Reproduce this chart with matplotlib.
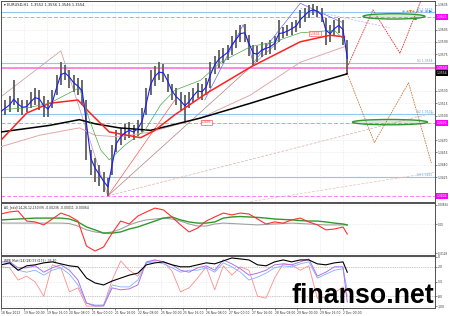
import numpy as np
import matplotlib
matplotlib.use("Agg")
import matplotlib.pyplot as plt
from matplotlib.patches import Ellipse
import matplotlib.transforms as mtransforms

# ---------------- data ----------------
date_labels = ["18 Nov 2013", "19 Nov 00:00", "19 Nov 16:00", "20 Nov 08:00", "21 Nov 00:00",
               "21 Nov 16:00", "22 Nov 08:00", "25 Nov 00:00", "25 Nov 16:00", "26 Nov 08:00",
               "27 Nov 00:00", "27 Nov 16:00", "28 Nov 08:00", "29 Nov 00:00", "29 Nov 16:00",
               "2 Dec 00:00"]
date_ticks = list(range(0, 241, 16))

price_bar = list(range(0, 244, 3))
highs = [1.3513,1.3519,1.3524,1.3543,1.3521,1.3519,1.3519,1.3529,1.3534,1.3531,
         1.3524,1.3519,1.3531,1.3550,1.3565,1.3562,1.3556,1.3550,1.3546,1.3543,
         1.3519,1.3458,1.3448,1.3440,1.3431,1.3424,1.3464,1.3482,1.3485,1.3490,
         1.3492,1.3488,1.3495,1.3509,1.3534,1.3556,1.3560,1.3565,1.3563,1.3551,
         1.3539,1.3534,1.3529,1.3525,1.3529,1.3534,1.3540,1.3539,1.3546,1.3565,
         1.3573,1.3580,1.3582,1.3586,1.3597,1.3604,1.3610,1.3612,1.3598,1.3586,
         1.3585,1.3590,1.3589,1.3592,1.3597,1.3617,1.3608,1.3610,1.3614,1.3617,
         1.3629,1.3631,1.3635,1.3636,1.3634,1.3631,1.3619,1.3610,1.3617,1.3619,
         1.3617,1.3592]
lows = [1.3497,1.3501,1.3504,1.3513,1.3504,1.3501,1.3504,1.3509,1.3513,1.3507,
        1.3498,1.3498,1.3509,1.3525,1.3537,1.3543,1.3534,1.3529,1.3525,1.3513,
        1.3446,1.3427,1.3419,1.3414,1.3407,1.3402,1.3427,1.3456,1.3464,1.3470,
        1.3473,1.3470,1.3475,1.3480,1.3501,1.3525,1.3536,1.3543,1.3541,1.3529,
        1.3519,1.3513,1.3507,1.3492,1.3509,1.3517,1.3521,1.3519,1.3525,1.3534,
        1.3551,1.3558,1.3564,1.3568,1.3574,1.3582,1.3590,1.3590,1.3573,1.3562,
        1.3565,1.3571,1.3574,1.3575,1.3580,1.3590,1.3595,1.3597,1.3598,1.3602,
        1.3607,1.3614,1.3619,1.3623,1.3620,1.3614,1.3586,1.3590,1.3597,1.3601,
        1.3586,1.3550]
blue_ma = [1.3505,1.3509,1.3513,1.3520,1.3514,1.3510,1.3511,1.3517,1.3522,1.3520,
           1.3512,1.3508,1.3516,1.3534,1.3550,1.3552,1.3547,1.3540,1.3536,1.3530,
           1.3490,1.3448,1.3436,1.3428,1.3420,1.3413,1.3440,1.3466,1.3474,1.3479,
           1.3482,1.3480,1.3484,1.3493,1.3515,1.3538,1.3548,1.3553,1.3552,1.3542,
           1.3530,1.3523,1.3518,1.3512,1.3517,1.3524,1.3530,1.3529,1.3535,1.3550,
           1.3562,1.3569,1.3573,1.3577,1.3586,1.3593,1.3600,1.3601,1.3588,1.3576,
           1.3575,1.3580,1.3582,1.3584,1.3588,1.3600,1.3601,1.3603,1.3606,1.3609,
           1.3617,1.3622,1.3627,1.3629,1.3627,1.3623,1.3604,1.3600,1.3606,1.3610,
           1.3605,1.3570]

green_bar = [0,20,34,45,55,62,70,76,87,101,112,122,140,154,175,192,210,234,241]
green_ma = [1.3507,1.3510,1.3515,1.3525,1.3534,1.3495,1.3458,1.3446,1.3464,1.3482,
            1.3513,1.3531,1.3543,1.3565,1.3584,1.3590,1.3601,1.3604,1.3592]
red_bar = [0,18,34,54,62,76,98,108,122,145,175,210,231,241]
red_ma = [1.3470,1.3503,1.3515,1.3519,1.3504,1.3480,1.3473,1.3482,1.3501,1.3528,
          1.3559,1.3590,1.3598,1.3596]
pink_bar = [0,27,55,66,83,105,140,175,210,241]
pink_ma = [1.3462,1.3476,1.3485,1.3476,1.3474,1.3480,1.3497,1.3525,1.3565,1.3584]
black_bar = [0,34,55,66,83,105,140,175,210,243]
black_ma = [1.3480,1.3488,1.3495,1.3490,1.3485,1.3482,1.3497,1.3515,1.3534,1.3551]

blue_levels = [1.3626, 1.3564, 1.3502, 1.3425]
blue_level_text = ["R1 1.3626", "S1 1.3564", "S2 1.3502", "S3 1.3425"]
magenta_levels = [1.3620, 1.3558, 1.3491, 1.3402]
magenta_text = ["1.3621", "1.3558", "1.3491", "1.3402"]
last_price = 1.3554

zig_left_bar = [0, 42, 75]
zig_left_px = [1.3523, 1.3579, 1.3402]
proj_red_bar = [243, 261, 280, 296]
proj_red_px = [1.3559, 1.3629, 1.3576, 1.3646]
proj_brown_bar = [243, 262, 286, 302]
proj_brown_px = [1.3551, 1.3467, 1.3540, 1.3442]
thin_blue_bar = [143, 170, 177, 210, 239]
thin_blue_px = [1.3519, 1.3611, 1.3564, 1.3637, 1.3614]

price_ticks = [1.3635, 1.3605, 1.3590, 1.3575, 1.3530, 1.3515, 1.3500,
               1.3470, 1.3455, 1.3440, 1.3425]

ind_bar = list(range(0, 241, 6)) + [243]
ao_red = [0.0044,0.0053,0.0057,0.0013,0.0009,-0.0004,0.0022,0.0048,0.0035,0.0013,
          -0.0097,-0.0119,-0.0101,-0.0040,0.0013,0.0000,0.0035,0.0053,0.0070,0.0062,
          0.0031,-0.0004,-0.0035,-0.0018,0.0013,0.0031,0.0048,0.0040,0.0048,0.0044,
          0.0022,0.0000,0.0009,0.0004,0.0018,0.0026,0.0009,-0.0004,-0.0026,-0.0022,
          -0.0013,-0.0044]
ao_green = [0.0018,0.0020,0.0022,0.0024,0.0026,0.0026,0.0026,0.0026,0.0022,0.0009,
            -0.0013,-0.0026,-0.0040,-0.0040,-0.0035,-0.0022,-0.0013,0.0000,0.0013,0.0026,
            0.0031,0.0018,0.0009,0.0004,0.0004,0.0009,0.0026,0.0031,0.0033,0.0031,
            0.0029,0.0026,0.0022,0.0020,0.0018,0.0015,0.0013,0.0013,0.0009,0.0004,
            0.0000,-0.0004]
ao_grey = [0.0004,0.0004,0.0004,0.0004,0.0004,0.0004,0.0004,0.0004,0.0002,-0.0009,
           -0.0026,-0.0035,-0.0040,-0.0035,-0.0022,-0.0004,0.0009,0.0018,0.0022,0.0026,
           0.0022,0.0013,0.0000,-0.0009,-0.0009,0.0000,0.0004,0.0002,0.0000,-0.0002,
           -0.0004,-0.0002,0.0000,0.0002,0.0004,0.0002,0.0000,-0.0002,-0.0004,-0.0004,
           -0.0004,-0.0004]

wpr_black = [-16,-12,-27,-18,-16,-12,-10,-14,-18,-20,-43,-53,-57,-49,-43,-37,-33,-16,-12,-10,
             -16,-20,-20,-16,-12,-14,-8,-2,-4,-6,-16,-18,-10,-6,-10,-6,-6,-14,-16,-12,-10,-31]
wpr_purple = [-10,-10,-22,-22,-18,-31,-22,-16,-27,-47,-94,-100,-100,-63,-67,-65,-57,-10,-6,-10,
              -16,-27,-31,-22,-18,-27,-6,-14,-24,-37,-33,-27,-16,-14,-16,-10,-4,-39,-31,-20,-20,-92]
wpr_blue = [-16,-14,-27,-31,-27,-37,-27,-22,-35,-57,-94,-98,-98,-57,-61,-61,-47,-12,-10,-14,
            -22,-31,-27,-27,-22,-31,-12,-20,-31,-47,-41,-33,-22,-18,-20,-14,-10,-43,-35,-27,-24,-67]
wpr_salmon = [-20,-22,-47,-39,-51,-80,-16,-22,-71,-63,-100,-100,-98,-47,-8,-27,-39,-12,-6,-10,
              -29,-71,-63,-43,-20,-67,-18,-37,-20,-27,-80,-84,-43,-14,-16,-27,-18,-84,-82,-73,-61,-78]

# ---------------- figure ----------------
W, H = 450, 316
fig = plt.figure(figsize=(W / 100, H / 100), dpi=100)
fig.patch.set_facecolor("white")

def ax_rect(x0, y0, x1, y1):
    return [x0 / W, 1 - y1 / H, (x1 - x0) / W, (y1 - y0) / H]

ax = fig.add_axes(ax_rect(1, 1, 435, 202))
p1 = fig.add_axes(ax_rect(1, 203, 435, 255), sharex=ax)
p2 = fig.add_axes(ax_rect(1, 256, 435, 308), sharex=ax)

XMAX = 434 / 1.425
FS = 2.2
for a in (ax, p1, p2):
    a.set_xlim(0, XMAX)
    for s in a.spines.values():
        s.set_color("#505050")
        s.set_linewidth(0.7)
    a.yaxis.tick_right()
    a.tick_params(axis="y", labelsize=FS, length=1.2, width=0.4, pad=0.8, colors="#333333")
    a.tick_params(axis="x", length=1.5, width=0.4)
    a.set_xticks(date_ticks)
    a.grid(True, color="#d8d8d8", linestyle=":", linewidth=0.4)
    a.set_axisbelow(True)
for a in (ax, p1):
    a.tick_params(axis="x", labelbottom=False, length=0)

# ---- main panel ----
ax.set_ylim(1.3641 - 0.000122 * 202, 1.3641 - 0.000122 * 1)
ax.set_yticks(price_ticks)
ax.set_yticklabels([f"{v:.4f}" for v in price_ticks])

# horizontal levels
for lv in blue_levels:
    ax.axhline(lv, color="#8ec8f2", lw=0.8, zorder=1)
ax.axhline(magenta_levels[1], color="#ff9a9a", lw=1.4, zorder=1)
for lv in magenta_levels:
    ax.axhline(lv, color="#ff7cff", lw=0.7, dashes=(4, 2), zorder=1.2)

# fan / zigzag lines
ax.plot(zig_left_bar, zig_left_px, color="#c8a0a0", lw=0.55, zorder=1.5)
ax.plot([75, 122], [1.3402, 1.3519], color="#ff5a4a", lw=0.5, zorder=1.5)
ax.plot([75, 196], [1.3402, 1.3592], color="#b08080", lw=0.5, zorder=1.5)
ax.plot([75, XMAX], [1.3402, 1.3504], color="#d8b0b0", lw=0.5, dashes=(4, 2), zorder=1.5)
ax.plot([175, XMAX], [1.3395, 1.3431], color="#e0c0c0", lw=0.5, dashes=(4, 2), zorder=1.5)
ax.plot([210, 273], [1.3631, 1.3607], color="#c0b0e0", lw=0.5, dashes=(3, 2), zorder=1.5)
ax.plot(thin_blue_bar, thin_blue_px, color="#6a6aff", lw=0.5, zorder=1.6)

# price bars
ax.vlines(price_bar, lows, highs, color="#5e5e5e", lw=1.3, zorder=2)

# moving averages
ax.plot(pink_bar, pink_ma, color="#e2a8a8", lw=0.7, zorder=3)
ax.plot(black_bar, black_ma, color="black", lw=1.1, zorder=3)
ax.plot(red_bar, red_ma, color="#ff2020", lw=1.1, zorder=3)
ax.plot(green_bar, green_ma, color="#4aa84a", lw=0.5, zorder=3)
ax.plot(price_bar, blue_ma, color="#1a1aff", lw=0.8, zorder=3.5)

# projections
ax.plot(proj_red_bar, proj_red_px, color="#e03030", lw=0.6, dashes=(2, 1), zorder=4)
ax.plot(proj_brown_bar, proj_brown_px, color="#c87a3a", lw=0.6, dashes=(2, 1), zorder=4)

# ellipses
for cx, cy, w in ((275.8, 1.3621, 43.5), (273.0, 1.3492, 52.6)):
    ax.add_patch(Ellipse((cx, cy), w, 0.00065, facecolor=(0.5, 0.6, 0.5, 0.25),
                         edgecolor="#2e9a2e", lw=1.0, zorder=5))

# markers at top right
ax.scatter([282, 285, 289, 292, 295, 298], [1.3627] * 6, s=2.5, color="#a0a0a0", zorder=6, lw=0)
ax.scatter([287], [1.3628], marker="v", s=5, color="#ff7020", zorder=6, lw=0)
ax.scatter([290.5], [1.3619], marker="^", s=5, color="#20a020", zorder=6, lw=0)
ax.scatter([301], [1.3627], marker=">", s=5, color="#2a8aff", zorder=6, lw=0)

# texts
ax.text(0.006, 0.988, "\u25be EURUSD,H1  1.3552 1.3556 1.3546 1.3554", transform=ax.transAxes,
        fontsize=2.6, va="top", ha="left", color="#222222")
for lv, t in zip(blue_levels, blue_level_text):
    ax.text(303, lv + 0.00003, t, fontsize=FS, color="#5aa0e0", ha="right", va="bottom", zorder=6)
ax.text(140.4, 1.3492, "1.3493", fontsize=FS, color="#ff3030", ha="left", va="center",
        bbox=dict(boxstyle="square,pad=0.15", fc="white", ec="#ff3030", lw=0.4), zorder=6)
ax.text(216.8, 1.3600, "1.3601", fontsize=FS, color="#ff3030", ha="left", va="center",
        bbox=dict(boxstyle="square,pad=0.15", fc="white", ec="#ff3030", lw=0.4), zorder=6)

trans = mtransforms.blended_transform_factory(ax.transAxes, ax.transData)
for lv, t in zip(magenta_levels, magenta_text):
    ax.text(1.004, lv, t, transform=trans, fontsize=FS, color="white", ha="left", va="center",
            bbox=dict(boxstyle="square,pad=0.25", fc="#ff00ff", ec="none"), zorder=7, clip_on=False)
ax.text(1.004, last_price - 0.0002, f"{last_price:.4f}", transform=trans, fontsize=FS, color="white",
        ha="left", va="center", bbox=dict(boxstyle="square,pad=0.25", fc="black", ec="none"),
        zorder=7, clip_on=False)

# ---- indicator 1 ----
p1.set_ylim((224 - 255) * 0.00044, (224 - 203) * 0.00044)
p1.set_yticks([0.0084, 0.0, -0.0128])
p1.set_yticklabels(["0.00834", "0.00", "-0.0128"])
p1.tick_params(axis="y", labelsize=1.9)
p1.plot(ind_bar, ao_grey, color="#a0a0a0", lw=0.8)
p1.plot(ind_bar, ao_green, color="#2e9a2e", lw=1.0)
p1.plot(ind_bar, ao_red, color="#ff3030", lw=0.8)
p1.text(0.006, 0.95, "AO_[sdx](14,26,12,150)(9) -0.00236 -0.00011 -0.00064", transform=p1.transAxes,
        fontsize=FS, va="top", ha="left", color="#222222")

# ---- indicator 2 ----
p2.set_ylim(-104, 2)
p2.set_yticks([0, -20, -50, -80, -100])
p2.set_yticklabels(["0", "-20", "-50", "-80", "-100"])
p2.axhline(-20, color="#a0a0a0", lw=0.5, ls=":")
p2.axhline(-80, color="#a0a0a0", lw=0.5, ls=":")
p2.plot(ind_bar, wpr_salmon, color="#ff8c8c", lw=0.6)
p2.plot(ind_bar, wpr_blue, color="#7fb0ff", lw=0.6)
p2.plot(ind_bar, wpr_purple, color="#b070e8", lw=0.7)
p2.plot(ind_bar, wpr_black, color="black", lw=0.8)
p2.text(0.006, 0.95, "WPR_Multi(14)(28)(75)(175) -33.40", transform=p2.transAxes,
        fontsize=FS, va="top", ha="left", color="#222222")

p2.set_xticklabels(date_labels)
p2.tick_params(axis="x", labelsize=FS, pad=1, colors="#333333")
for lab in p2.get_xticklabels():
    lab.set_ha("left")

# watermark
fig.text(292 / W, 1 - 303 / H, "finanso.net", fontsize=19.3, fontweight="bold",
         family="Liberation Sans", color="black", ha="left", va="baseline")

fig.savefig("out.png", dpi=100, facecolor="white")
